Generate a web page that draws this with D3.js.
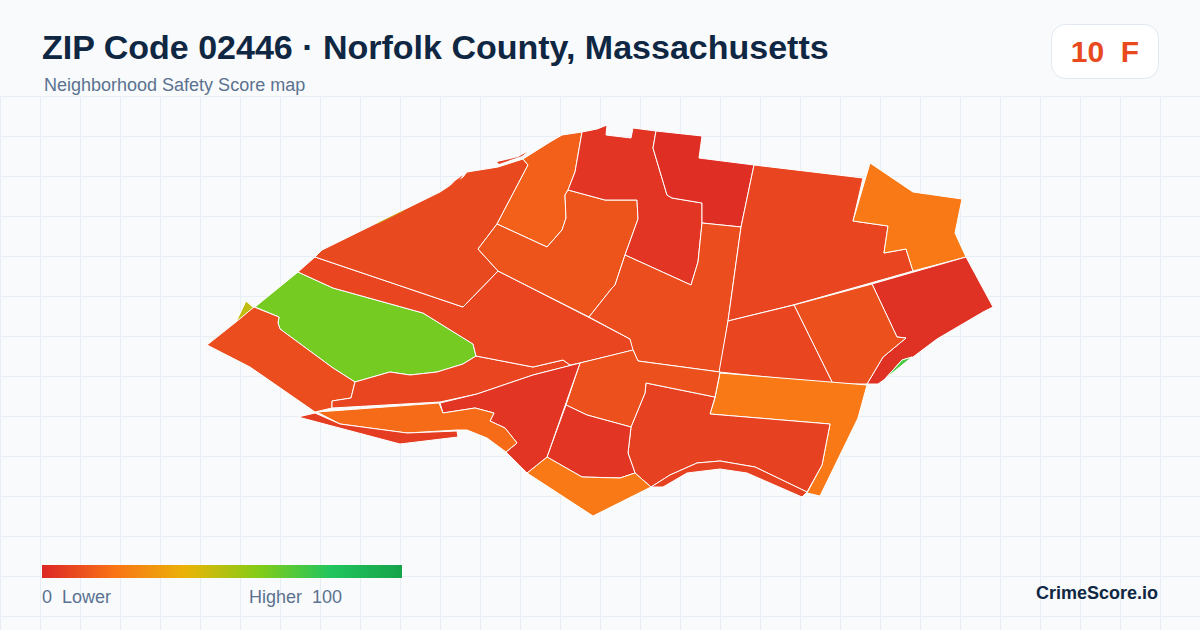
<!DOCTYPE html>
<html><head><meta charset="utf-8">
<script src="https://cdn.jsdelivr.net/npm/d3@7"></script>
<style>html,body{margin:0;padding:0;background:#f8fafc}svg{display:block}</style>
</head><body><svg id="c" width="1200" height="630"></svg>
<script>
const titleText = "ZIP Code 02446 · Norfolk County, Massachusetts";
const subtitleText = "Neighborhood Safety Score map";
const overallScore = 10, overallGrade = "F";
const legendStops = [0,20,40,60,80,100];
const legendColors = ["#dc2626","#f97316","#eab308","#84cc16","#22c55e","#16a34a"];
const legendLabelsLeft = "0  Lower", legendLabelsRight = "Higher  100";
const brand = "CrimeScore.io";
const regionScores = [63,48,10,8,8,9,15,12,4,2,10,8,22,3,72,11,8,22,7,7,11,4,22,4,18,6,6,9,48];
// Hairline slivers along the edge carry no white outline
const regionOutlined = [1,1,1,1,1,1,1,1,1,1,1,1,1,1,1,1,1,1,1,1,1,1,1,1,1,1,0,0,0];
// Neighborhood outlines in map units (easting, northing)
const regionRings = [
 [[98,258],[133,242],[223,217],[273,186],[276,174],[263,166],[237,158],[210,155],[190,158],[155,148],[133,162],[80,201],[78,207],[79,213],[55,223]],
 [[46,229],[54,222],[36,208]],
 [[54,223],[79,213],[78,207],[80,201],[133,162],[155,148],[151,132],[132,129],[132,122],[115,118],[50,163],[7,185],[36,208]],
 [[155,148],[190,158],[210,155],[237,158],[263,166],[276,174],[333,163],[363,170],[370,165],[380,167],[333,155],[277,136],[240,128],[132,122],[132,129],[151,132]],
 [[115,273],[263,223],[298,259],[390,212],[430,191],[434,180],[380,167],[370,165],[363,170],[333,163],[276,174],[273,186],[223,217],[133,242],[98,258]],
 [[115,273],[122,280],[240,338],[263,353],[267,358],[298,363],[323,371],[328,365],[297,306],[278,281],[298,259],[263,223]],
 [[323,371],[350,388],[362,395],[382,398],[375,358],[368,340],[365,335],[366,312],[362,300],[347,283],[297,306],[328,365]],
 [[297,306],[347,283],[362,300],[366,312],[365,335],[368,340],[405,330],[437,330],[438,311],[425,275],[415,245],[412,242],[389,213],[298,259],[278,281]],
 [[382,398],[397,401],[407,405],[406,395],[431,392],[433,402],[456,399],[453,382],[467,335],[472,332],[502,327],[502,307],[498,268],[491,245],[425,275],[438,311],[437,330],[405,330],[368,340],[375,358]],
 [[456,399],[502,394],[499,372],[554,365],[541,303],[502,307],[502,327],[472,332],[467,335],[453,382]],
 [[425,275],[491,245],[498,268],[502,307],[541,303],[528,209],[520,158],[438,169],[433,180],[430,191],[389,213],[412,242],[415,245]],
 [[554,365],[663,352],[653,309],[688,304],[684,277],[706,281],[713,259],[593,225],[528,209],[541,303]],
 [[670,367],[713,338],[762,331],[755,297],[766,273],[713,259],[706,281],[684,277],[688,304],[653,309]],
 [[766,273],[793,223],[783,218],[737,191],[713,173],[702,170],[685,151],[678,146],[667,146],[683,173],[706,192],[697,193],[672,246]],
 [[712,173],[702,170],[685,151]],
 [[672,246],[697,193],[706,192],[683,173],[667,146],[633,146],[594,225]],
 [[528,209],[594,225],[633,146],[519,158]],
 [[520,157],[667,145],[658,112],[620,34],[607,37],[622,65],[630,106],[510,116],[515,132]],
 [[446,147],[515,133],[510,116],[630,106],[622,65],[607,38],[555,63],[520,69],[497,67],[470,55],[451,43],[435,57],[428,77],[431,103],[445,137]],
 [[451,43],[470,55],[497,67],[520,69],[555,63],[607,38],[602,33],[547,57],[520,61],[487,57],[463,43]],
 [[380,167],[433,180],[438,169],[520,158],[515,133],[446,147],[445,137],[431,103],[387,115],[366,125]],
 [[366,125],[387,115],[431,103],[428,77],[435,57],[420,52],[382,53],[347,73]],
 [[347,73],[382,53],[420,52],[435,57],[451,43],[393,14],[327,57]],
 [[240,127],[277,136],[333,155],[380,167],[347,73],[327,57],[306,78],[317,87],[305,102],[290,109],[294,117],[275,122],[243,117]],
 [[117,118],[239,127],[243,117],[275,122],[294,117],[290,109],[305,102],[317,87],[306,78],[287,92],[267,100],[257,100],[207,97],[140,106]],
 [[115,117],[140,106],[207,97],[257,99],[258,93],[200,86],[98,113]],
 [[297,368],[318,373],[327,378],[322,374],[299,366]],
 [[247,341],[255,349],[263,355],[258,348]],
 [[177,306.5],[203,319.5],[203.5,319],[177.5,306]]
];

const svg = d3.select("#c");
const W = 1200, H = 630, gridTop = 97, gridStep = 40;
svg.append("rect").attr("width",W).attr("height",H).attr("fill","#f8fafc");

const grid = svg.append("g").attr("stroke","#e8eef5").attr("stroke-width",1);
grid.selectAll("line.v").data(d3.range(0,W+1,gridStep)).join("line").attr("class","v")
  .attr("x1",d=>d+0.5).attr("x2",d=>d+0.5).attr("y1",gridTop-0.5).attr("y2",H);
grid.selectAll("line.h").data(d3.range(gridTop,H,gridStep)).join("line").attr("class","h")
  .attr("x1",0).attr("x2",W).attr("y1",d=>d-0.5).attr("y2",d=>d-0.5);

const xMap = d3.scaleLinear().domain([0,800]).range([200,1000]);
const yMap = d3.scaleLinear().domain([0,420]).range([530,110]);
const colorOf = d3.scaleLinear().domain(legendStops).range(legendColors).interpolate(d3.interpolateRgb);
const outline = d3.line().x(d=>xMap(d[0])).y(d=>yMap(d[1])).curve(d3.curveLinearClosed);

svg.append("g").selectAll("path").data(regionRings).join("path")
  .attr("d",outline).attr("fill",(d,i)=>colorOf(regionScores[i]))
  .attr("stroke",(d,i)=>regionOutlined[i]?"#fff":"none").attr("stroke-width",1).attr("stroke-linejoin","round");

const sans = "'Liberation Sans',Arial,sans-serif";
svg.append("text").attr("x",42).attr("y",59).attr("font-family",sans).attr("font-weight",700)
  .attr("font-size",34).attr("fill","#0f2742").text(titleText);
svg.append("text").attr("x",44).attr("y",91).attr("font-family",sans)
  .attr("font-size",18).attr("fill","#5b7290").text(subtitleText);

svg.append("rect").attr("x",1051.5).attr("y",24.5).attr("width",107).attr("height",54).attr("rx",14)
  .attr("fill","#fff").attr("stroke","#e2e8f0");
svg.append("text").attr("x",1105).attr("y",62).attr("text-anchor","middle").attr("font-family",sans)
  .attr("font-weight",700).attr("font-size",30).attr("fill","#e8491d")
  .style("white-space","pre").text(overallScore+"  "+overallGrade);

const grad = svg.append("defs").append("linearGradient").attr("id","lg");
grad.selectAll("stop").data(legendStops).join("stop")
  .attr("offset",d=>d+"%").attr("stop-color",(d,i)=>legendColors[i]);
const legendX = d3.scaleLinear().domain([0,100]).range([42,402]);
svg.append("rect").attr("x",legendX(0)).attr("y",565).attr("width",legendX(100)-legendX(0)).attr("height",13).attr("fill","url(#lg)");
svg.append("text").attr("x",42).attr("y",603).attr("font-family",sans).attr("font-size",18)
  .attr("fill","#5b7290").style("white-space","pre").text(legendLabelsLeft);
svg.append("text").attr("x",249).attr("y",603).attr("font-family",sans).attr("font-size",18)
  .attr("fill","#5b7290").style("white-space","pre").text(legendLabelsRight);
svg.append("text").attr("x",1158).attr("y",599).attr("text-anchor","end").attr("font-family",sans)
  .attr("font-weight",700).attr("font-size",18).attr("fill","#0f2742").text(brand);
</script></body></html>
